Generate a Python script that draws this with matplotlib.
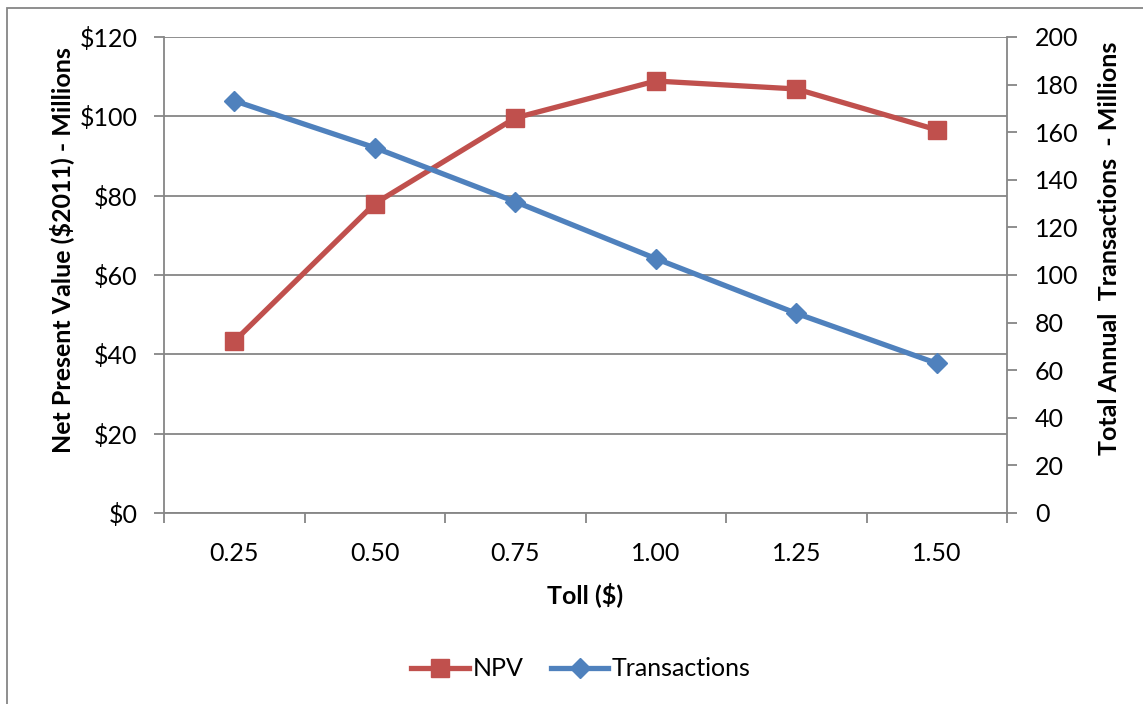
import matplotlib
matplotlib.use("Agg")
import matplotlib.pyplot as plt
from matplotlib.patches import Rectangle
from matplotlib.lines import Line2D
import numpy as np

tolls = ["0.25", "0.50", "0.75", "1.00", "1.25", "1.50"]
npv = [43.3, 78.0, 99.6, 108.9, 106.9, 96.6]
transactions = [173.2, 153.5, 130.8, 106.9, 83.9, 62.9]
left_ticks = [0, 20, 40, 60, 80, 100, 120]
left_labels = ["$0", "$20", "$40", "$60", "$80", "$100", "$120"]
right_ticks = list(range(0, 201, 20))

plt.rcParams['font.family'] = ['Lato', 'DejaVu Sans']
FS = 18
grey = "#868686"
red = "#C0504D"
blue = "#4F81BD"

fig = plt.figure(figsize=(11.43, 7.04), dpi=100)
fig.patch.set_facecolor("white")
ax = fig.add_axes([164/1143, 1-513/704, (1007-164)/1143, (513-37)/704])
ax2 = ax.twinx()

x = np.arange(len(tolls))
ax.set_xlim(-0.5, len(tolls)-0.5)
ax.set_ylim(0, 120)
ax2.set_ylim(0, 200)

ax.set_yticks(left_ticks)
ax.set_yticklabels(left_labels, fontsize=FS)
ax.grid(axis='y', color=grey, linewidth=1.3)
ax.set_axisbelow(True)
ax.set_xticks(x)
ax.set_xticklabels(tolls, fontsize=FS)
ax.set_xticks(np.arange(-0.5, len(tolls), 1.0), minor=True)
ax.tick_params(axis='x', which='major', length=0, pad=21)
ax.tick_params(axis='x', which='minor', length=7, width=1.3, color=grey, direction='out')
ax.tick_params(axis='y', length=7, width=1.3, color=grey, direction='out', pad=12)
ax2.set_yticks(right_ticks)
ax2.set_yticklabels([str(v) for v in right_ticks], fontsize=FS)
ax2.tick_params(axis='y', length=7, width=1.3, color=grey, direction='out', pad=13)

for a in (ax, ax2):
    for s in a.spines.values():
        s.set_visible(False)
ax.spines['left'].set_visible(True)
ax.spines['left'].set_color(grey)
ax.spines['left'].set_linewidth(1.3)
ax.spines['bottom'].set_visible(True)
ax.spines['bottom'].set_color(grey)
ax.spines['bottom'].set_linewidth(1.3)
ax2.spines['right'].set_visible(True)
ax2.spines['right'].set_color(grey)
ax2.spines['right'].set_linewidth(1.3)

ax.plot(x, npv, color=red, linewidth=3.8, marker='s', markersize=13,
        markerfacecolor=red, markeredgecolor=red, zorder=3, label="NPV")
ax2.plot(x, transactions, color=blue, linewidth=3.8, marker='D', markersize=10,
         markerfacecolor=blue, markeredgecolor=blue, zorder=3, label="Transactions")

ax.set_xlabel("Toll ($)", fontsize=FS, fontweight='bold', labelpad=12)
ax.set_ylabel("Net Present Value ($2011) - Millions", fontsize=FS, fontweight='bold', labelpad=4)
ax2.set_ylabel("Total Annual  Transactions  - Millions", fontsize=FS, fontweight='bold', labelpad=14)
ax.yaxis.label.set_y(0.553)
ax2.yaxis.label.set_y(0.557)

handles = [Line2D([0], [0], color=red, linewidth=3.8, marker='s', markersize=13),
           Line2D([0], [0], color=blue, linewidth=3.8, marker='D', markersize=10)]
fig.legend(handles, ["NPV", "Transactions"], loc='center', bbox_to_anchor=(581/1143, 1-669/704),
           ncol=2, frameon=False, fontsize=FS, handlelength=2.3, handletextpad=0.15, columnspacing=1.1)

fig.add_artist(Rectangle((7/1143, -0.1), 1.2, 1.1 - 8/704, transform=fig.transFigure,
                         fill=False, edgecolor=grey, linewidth=1.3, clip_on=False))

fig.savefig("out.png", dpi=100)
